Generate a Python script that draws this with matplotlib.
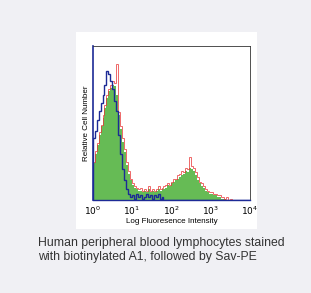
import numpy as np
import matplotlib.pyplot as plt

# histogram channels: 80 bins over 4 log decades (10^0 .. 10^4)
decades = [0, 4]
n_bins = 80

stained_fill = [0.24, 0.30, 0.36, 0.42, 0.48, 0.53, 0.60, 0.66, 0.71, 0.73,
                0.75, 0.74, 0.68, 0.55, 0.46, 0.38, 0.31, 0.23, 0.17, 0.13,
                0.10, 0.08, 0.07, 0.06, 0.06, 0.05, 0.06, 0.05, 0.07, 0.05,
                0.06, 0.05, 0.06, 0.07, 0.06, 0.07, 0.07, 0.08, 0.10, 0.09,
                0.11, 0.12, 0.13, 0.14, 0.15, 0.16, 0.17, 0.19, 0.18, 0.21,
                0.20, 0.19, 0.16, 0.13, 0.11, 0.09, 0.08, 0.06, 0.05, 0.04,
                0.04, 0.03, 0.03, 0.02, 0.02, 0.01, 0.01, 0.005, 0.0, 0.0,
                0.0, 0.0, 0.0, 0.0, 0.0, 0.0, 0.0, 0.0, 0.0, 0.0]

stained_line = [0.25, 0.32, 0.37, 0.44, 0.49, 0.55, 0.62, 0.68, 0.72, 0.75,
                0.77, 0.76, 0.88, 0.57, 0.48, 0.40, 0.33, 0.25, 0.19, 0.14,
                0.11, 0.09, 0.08, 0.07, 0.08, 0.06, 0.07, 0.06, 0.09, 0.06,
                0.07, 0.06, 0.07, 0.09, 0.07, 0.08, 0.09, 0.10, 0.11, 0.10,
                0.12, 0.14, 0.14, 0.16, 0.17, 0.19, 0.18, 0.21, 0.20, 0.28,
                0.22, 0.21, 0.18, 0.15, 0.12, 0.11, 0.09, 0.07, 0.06, 0.05,
                0.05, 0.04, 0.04, 0.03, 0.03, 0.02, 0.02, 0.01, 0.02, 0.0,
                0.01, 0.0, 0.0, 0.0, 0.0, 0.0, 0.0, 0.0, 0.0, 0.0]

control = [0.40, 0.45, 0.52, 0.58, 0.63, 0.68, 0.75, 0.84, 0.82, 0.77,
           0.72, 0.64, 0.58, 0.42, 0.30, 0.20, 0.13, 0.07, 0.04, 0.02,
           0.03, 0.01, 0.04, 0.02, 0.03, 0.01, 0.02, 0.04, 0.02, 0.03,
           0.01, 0.03, 0.02, 0.04, 0.01, 0.02, 0.0, 0.0, 0.0, 0.0,
           0.0, 0.0, 0.0, 0.0, 0.0, 0.0, 0.0, 0.0, 0.0, 0.0,
           0.0, 0.0, 0.0, 0.0, 0.0, 0.0, 0.0, 0.0, 0.0, 0.0,
           0.0, 0.0, 0.0, 0.0, 0.0, 0.0, 0.0, 0.0, 0.0, 0.0,
           0.0, 0.0, 0.0, 0.0, 0.0, 0.0, 0.0, 0.0, 0.0, 0.0]

tick_pos = [1, 10, 100, 1000, 10000]
tick_labels = ['$10^0$', '$10^1$', '$10^2$', '$10^3$', '$10^4$']
caption = "Human peripheral blood lymphocytes stained\nwith biotinylated A1, followed by Sav-PE"

edges = np.logspace(decades[0], decades[1], n_bins + 1)

fig = plt.figure(figsize=(3.11, 2.93), dpi=100)
fig.patch.set_facecolor('#f0f0f4')

# white card behind the plot
bg = fig.add_axes([0.244, 0.218, 0.582, 0.672])
bg.set_facecolor('white')
bg.set_xticks([])
bg.set_yticks([])
for s in bg.spines.values():
    s.set_visible(False)

ax = fig.add_axes([0.298, 0.317, 0.506, 0.526])
ax.set_xscale('log')
ax.stairs(stained_fill, edges, fill=True, color='#66bb55', zorder=2)
ax.stairs(stained_line, edges, color='#e83535', lw=0.7, alpha=0.75, zorder=3)
ax.stairs(control, edges, color='#1c2a96', lw=1.0, zorder=4)

ax.set_xlim(1, 10000)
ax.set_ylim(0, 1.0)
ax.set_xticks(tick_pos)
ax.set_xticklabels(tick_labels, fontsize=6.5, family='Liberation Sans')
ax.minorticks_off()
ax.set_yticks([])
ax.tick_params(axis='x', length=0, pad=3)
for s in ax.spines.values():
    s.set_linewidth(0.6)
    s.set_color('#333333')
ax.spines['left'].set_color('#1c2a96')
ax.spines['left'].set_linewidth(1.2)
ax.spines['bottom'].set_color('#1c2a96')
ax.spines['bottom'].set_linewidth(1.0)

ax.set_xlabel('Log Fluoresence Intensity', fontsize=5.8, family='Liberation Sans', labelpad=1)
ax.set_ylabel('Relative Cell Number', fontsize=5.8, family='Liberation Sans', labelpad=2)

fig.text(0.122, 0.19, caption, fontsize=8.8, family='Liberation Sans',
         color='#333333', va='top', ha='left', linespacing=1.15)

fig.savefig('out.png', dpi=100, facecolor=fig.get_facecolor())
